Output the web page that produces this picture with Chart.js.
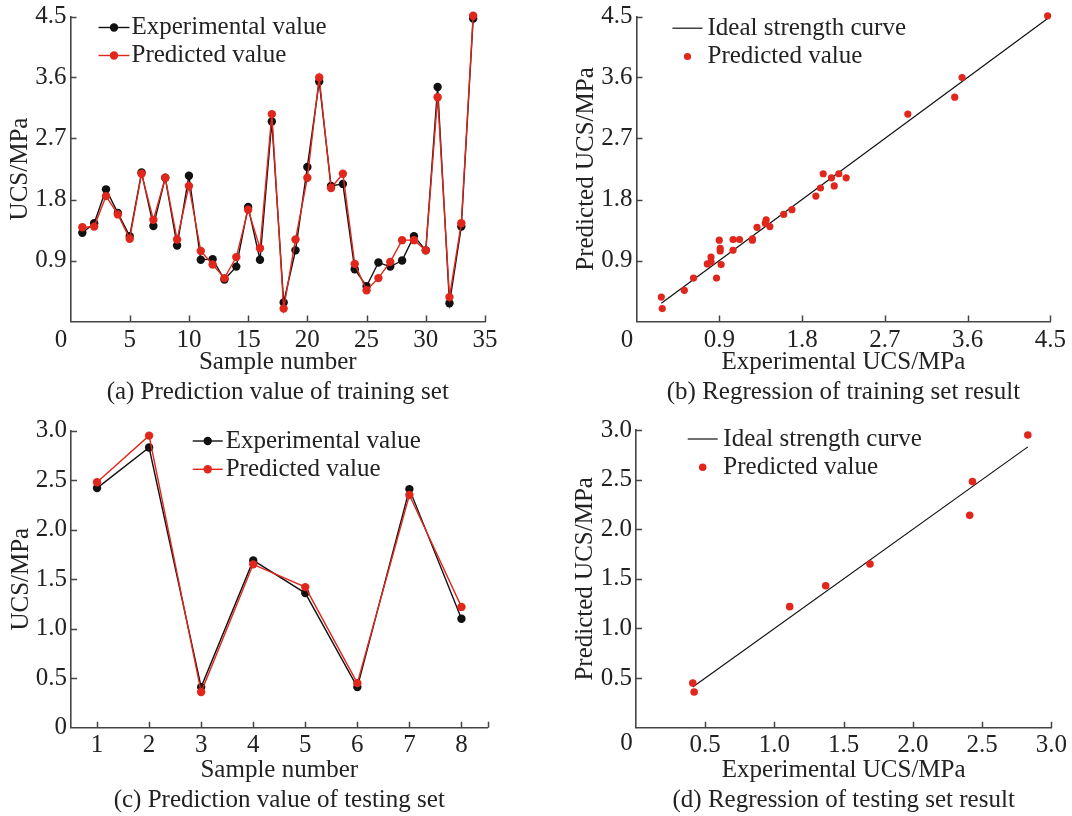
<!DOCTYPE html>
<html>
<head>
<meta charset="utf-8">
<title>UCS prediction</title>
<script src="https://cdn.jsdelivr.net/npm/chart.js@4.4.1/dist/chart.umd.min.js"></script>
<style>
    html, body { margin: 0; padding: 0; background: #fff; }
    .figure { position: relative; width: 1072px; height: 816px; }
    .panel { position: absolute; width: 536px; height: 408px; }
</style>
</head>
<body>
<div class="figure">
    <div class="panel" style="left:0;top:0"><canvas id="chartTrain"></canvas></div>
    <div class="panel" style="left:536px;top:0"><canvas id="chartTrainReg"></canvas></div>
    <div class="panel" style="left:0;top:408px"><canvas id="chartTest"></canvas></div>
    <div class="panel" style="left:536px;top:408px"><canvas id="chartTestReg"></canvas></div>
</div>
<script>
// Training set (34 samples), UCS in MPa
const trainSamples = [1, 2, 3, 4, 5, 6, 7, 8, 9, 10, 11, 12, 13, 14, 15, 16, 17,
    18, 19, 20, 21, 22, 23, 24, 25, 26, 27, 28, 29, 30, 31, 32, 33, 34];
const trainExperimental = [1.31, 1.45, 1.95, 1.60, 1.26, 2.20, 1.41, 2.12, 1.12, 2.15, 0.91, 0.92,
    0.62, 0.81, 1.69, 0.91, 2.95, 0.28, 1.05, 2.28, 3.54, 2.00, 2.03, 0.77, 0.52, 0.87, 0.81,
    0.90, 1.26, 1.05, 3.46, 0.27, 1.40, 4.47];
const trainPredicted = [1.39, 1.40, 1.85, 1.58, 1.22, 2.18, 1.50, 2.12, 1.21, 2.00, 1.04, 0.84,
    0.64, 0.95, 1.65, 1.08, 3.06, 0.19, 1.21, 2.12, 3.60, 1.97, 2.18, 0.85, 0.46, 0.64, 0.88,
    1.20, 1.20, 1.05, 3.31, 0.36, 1.45, 4.51];

// Testing set (8 samples)
const testSamples = [1, 2, 3, 4, 5, 6, 7, 8];
const testExperimental = [2.42, 2.83, 0.41, 1.69, 1.36, 0.41, 2.41, 1.10];
const testPredicted = [2.48, 2.95, 0.36, 1.65, 1.42, 0.45, 2.35, 1.22];

// Regression points for the testing set
const testRegExperimental = [0.41, 0.42, 1.11, 1.37, 1.69, 2.41, 2.43, 2.83];
const testRegPredicted = [0.45, 0.36, 1.22, 1.43, 1.65, 2.14, 2.48, 2.95];

// Tick values
const trainCountTicks = [0, 5, 10, 15, 20, 25, 30, 35];
const trainUcsTicks = [0, 0.9, 1.8, 2.7, 3.6, 4.5];
const testCountTicks = [1, 2, 3, 4, 5, 6, 7, 8];
const testUcsTicks = [0, 0.5, 1.0, 1.5, 2.0, 2.5, 3.0];

const RED = '#e1261c';
const BLACK = '#111111';
const AXIS = '#454545';
const TEXT = '#222222';
const FONT_FAMILY = '"Liberation Serif", "Times New Roman", serif';
const FONT_SIZE = 25;

Chart.defaults.font.family = FONT_FAMILY;
Chart.defaults.font.size = FONT_SIZE;
Chart.defaults.color = TEXT;

// Legend drawn inside the plot area, line + marker + label per dataset
const insetLegend = {
    id: 'insetLegend',
    afterDatasetsDraw(chart, args, opts) {
        const { ctx, chartArea } = chart;
        ctx.save();
        ctx.font = FONT_SIZE + 'px ' + FONT_FAMILY;
        ctx.textBaseline = 'middle';
        chart.data.datasets.forEach((ds, i) => {
            const y = chartArea.top + opts.top + i * opts.rowGap;
            const x0 = chartArea.left + opts.left;
            const x1 = x0 + opts.lineLen;
            if (ds.showLine) {
                ctx.strokeStyle = ds.borderColor;
                ctx.lineWidth = ds.borderWidth;
                ctx.beginPath();
                ctx.moveTo(x0, y);
                ctx.lineTo(x1, y);
                ctx.stroke();
            }
            if (ds.pointRadius > 0) {
                ctx.fillStyle = ds.pointBackgroundColor;
                ctx.beginPath();
                ctx.arc((x0 + x1) / 2, y, ds.pointRadius, 0, Math.PI * 2);
                ctx.fill();
            }
            ctx.fillStyle = TEXT;
            ctx.fillText(ds.label, x1 + opts.textGap, y);
        });
        ctx.restore();
    }
};

// Short tick marks pointing into the plot, plus the shared "0" at the origin
const innerTicks = {
    id: 'innerTicks',
    afterDraw(chart, args, opts) {
        const { ctx, chartArea, scales } = chart;
        const len = 6;
        ctx.save();
        ctx.strokeStyle = AXIS;
        ctx.lineWidth = 1.5;
        ctx.beginPath();
        const xs = scales.x.ticks.map(t => t.value).filter(v => v > scales.x.min);
        if (xs[xs.length - 1] < scales.x.max) xs.push(scales.x.max);
        xs.forEach(v => {
            const px = Math.round(scales.x.getPixelForValue(v)) + 0.5;
            ctx.moveTo(px, chartArea.bottom);
            ctx.lineTo(px, chartArea.bottom - len);
        });
        scales.y.ticks.map(t => t.value).filter(v => v > scales.y.min).forEach(v => {
            const py = Math.round(scales.y.getPixelForValue(v)) + 0.5;
            ctx.moveTo(chartArea.left, py);
            ctx.lineTo(chartArea.left + len, py);
        });
        ctx.stroke();

        if (opts.origin) {
            ctx.font = FONT_SIZE + 'px ' + FONT_FAMILY;
            ctx.fillStyle = TEXT;
            ctx.textAlign = 'center';
            ctx.textBaseline = 'middle';
            ctx.fillText('0', chartArea.left - 9.5, chartArea.bottom + opts.originDy);
        }
        ctx.restore();
    }
};

function fixedTicks(values) {
    return scale => { scale.ticks = values.map(v => ({ value: v })); };
}

function buildOptions(cfg) {
    return {
        responsive: true,
        maintainAspectRatio: false,
        animation: false,
        events: [],
        layout: { padding: cfg.padding },
        scales: {
            x: {
                type: 'linear',
                min: cfg.xMin,
                max: cfg.xMax,
                afterBuildTicks: fixedTicks(cfg.xTicks),
                afterFit: s => { s.height = cfg.xHeight; },
                grid: { display: false, drawTicks: false },
                border: { display: true, color: AXIS, width: 1.6 },
                ticks: {
                    padding: cfg.xTickPad,
                    autoSkip: false,
                    maxRotation: 0,
                    font: { lineHeight: 1 },
                    callback: cfg.xLabel
                },
                title: {
                    display: true,
                    text: cfg.xTitle,
                    font: { lineHeight: 1 },
                    padding: { top: 0, bottom: 0 }
                }
            },
            y: {
                type: 'linear',
                min: cfg.yMin,
                max: cfg.yMax,
                afterBuildTicks: fixedTicks(cfg.yTicks),
                afterFit: s => { s.width = cfg.yWidth; },
                grid: { display: false, drawTicks: false },
                border: { display: true, color: AXIS, width: 1.6 },
                ticks: {
                    padding: 4,
                    autoSkip: false,
                    font: { lineHeight: 1 },
                    callback: cfg.yLabel
                },
                title: {
                    display: true,
                    text: cfg.yTitle,
                    font: { lineHeight: 1 },
                    padding: { top: cfg.yTitlePad, bottom: 0 }
                }
            }
        },
        plugins: {
            legend: { display: false },
            tooltip: { enabled: false },
            title: {
                display: true,
                position: 'bottom',
                fullSize: false,
                text: cfg.caption,
                color: TEXT,
                font: { weight: 'normal', lineHeight: 1 },
                padding: { top: 5, bottom: 0 }
            },
            insetLegend: cfg.legend,
            innerTicks: { origin: cfg.origin, originDy: cfg.originDy }
        }
    };
}

function toPoints(xs, ys) {
    return xs.map((x, i) => ({ x: x, y: ys[i] }));
}

function seriesDataset(label, xs, ys, color, radius, order) {
    return {
        label: label,
        data: toPoints(xs, ys),
        showLine: true,
        borderColor: color,
        backgroundColor: color,
        borderWidth: 1.4,
        pointRadius: radius,
        pointBackgroundColor: color,
        pointBorderWidth: 0,
        tension: 0,
        clip: false,
        order: order
    };
}

// Ideal line y = x across the range of the experimental values
function idealDataset(xs) {
    const lo = Math.min(...xs);
    const hi = Math.max(...xs);
    return {
        label: 'Ideal strength curve',
        type: 'line',
        data: [{ x: lo, y: lo }, { x: hi, y: hi }],
        showLine: true,
        borderColor: BLACK,
        backgroundColor: BLACK,
        borderWidth: 1.2,
        pointRadius: 0,
        clip: false,
        order: 1
    };
}

function scatterDataset(xs, ys, radius) {
    return {
        label: 'Predicted value',
        data: toPoints(xs, ys),
        showLine: false,
        backgroundColor: RED,
        pointBackgroundColor: RED,
        pointRadius: radius,
        pointBorderWidth: 0,
        clip: false,
        order: 0
    };
}

const oneDecimal = v => (v === 0 ? '' : v.toFixed(1));

// (a) training set, experimental vs predicted per sample
new Chart(document.getElementById('chartTrain'), {
    type: 'line',
    data: {
        datasets: [
            seriesDataset('Experimental value', trainSamples, trainExperimental, BLACK, 4.2, 1),
            seriesDataset('Predicted value', trainSamples, trainPredicted, RED, 4.2, 0)
        ]
    },
    options: buildOptions({
        padding: { top: 15, right: 51, bottom: 3.5, left: 0 },
        xMin: 0, xMax: 35, xTicks: trainCountTicks,
        yMin: 0, yMax: 4.5, yTicks: trainUcsTicks,
        xLabel: v => (v === 0 ? '' : String(v)),
        yLabel: oneDecimal,
        xHeight: 53, xTickPad: 6, yWidth: 70.5, yTitlePad: 7.5,
        xTitle: 'Sample number',
        yTitle: 'UCS/MPa',
        caption: '(a) Prediction value of training set',
        legend: { left: 28, top: 11, rowGap: 28, lineLen: 31, textGap: 2 },
        origin: true, originDy: 18.5
    }),
    plugins: [insetLegend, innerTicks]
});

// (b) training set regression
new Chart(document.getElementById('chartTrainReg'), {
    type: 'scatter',
    data: {
        datasets: [
            idealDataset(trainExperimental),
            scatterDataset(trainExperimental, trainPredicted, 3.6)
        ]
    },
    options: buildOptions({
        padding: { top: 15, right: 19, bottom: 3.5, left: 0 },
        xMin: 0, xMax: 4.5, xTicks: trainUcsTicks,
        yMin: 0, yMax: 4.5, yTicks: trainUcsTicks,
        xLabel: oneDecimal,
        yLabel: oneDecimal,
        xHeight: 53, xTickPad: 6, yWidth: 100.5, yTitlePad: 38,
        xTitle: 'Experimental UCS/MPa',
        yTitle: 'Predicted UCS/MPa',
        caption: '(b) Regression of training set result',
        legend: { left: 36, top: 11.7, rowGap: 28.3, lineLen: 30, textGap: 5 },
        origin: true, originDy: 18.5
    }),
    plugins: [insetLegend, innerTicks]
});

// (c) testing set, experimental vs predicted per sample
new Chart(document.getElementById('chartTest'), {
    type: 'line',
    data: {
        datasets: [
            seriesDataset('Experimental value', testSamples, testExperimental, BLACK, 4.2, 1),
            seriesDataset('Predicted value', testSamples, testPredicted, RED, 4.2, 0)
        ]
    },
    options: buildOptions({
        padding: { top: 22.7, right: 48.5, bottom: 3.5, left: 0 },
        xMin: 0.5, xMax: 8.5, xTicks: testCountTicks,
        yMin: 0, yMax: 3.0, yTicks: testUcsTicks,
        xLabel: v => String(v),
        yLabel: v => (v === 0 ? '0' : v.toFixed(1)),
        xHeight: 54.8, xTickPad: 5, yWidth: 71, yTitlePad: 9,
        xTitle: 'Sample number',
        yTitle: 'UCS/MPa',
        caption: '(c) Prediction value of testing set',
        legend: { left: 121.7, top: 10.3, rowGap: 28.3, lineLen: 30, textGap: 3 },
        origin: false
    }),
    plugins: [insetLegend, innerTicks]
});

// (d) testing set regression
new Chart(document.getElementById('chartTestReg'), {
    type: 'scatter',
    data: {
        datasets: [
            idealDataset(testRegExperimental),
            scatterDataset(testRegExperimental, testRegPredicted, 3.8)
        ]
    },
    options: buildOptions({
        padding: { top: 22, right: 19.3, bottom: 3.5, left: 0 },
        xMin: 0, xMax: 3.0, xTicks: testUcsTicks,
        yMin: 0, yMax: 3.0, yTicks: testUcsTicks,
        xLabel: oneDecimal,
        yLabel: oneDecimal,
        xHeight: 54.8, xTickPad: 5, yWidth: 100, yTitlePad: 36.5,
        xTitle: 'Experimental UCS/MPa',
        yTitle: 'Predicted UCS/MPa',
        caption: '(d) Regression of testing set result',
        legend: { left: 51.7, top: 9, rowGap: 28.3, lineLen: 30, textGap: 5.6 },
        origin: true, originDy: 16
    }),
    plugins: [insetLegend, innerTicks]
});
</script>
</body>
</html>
